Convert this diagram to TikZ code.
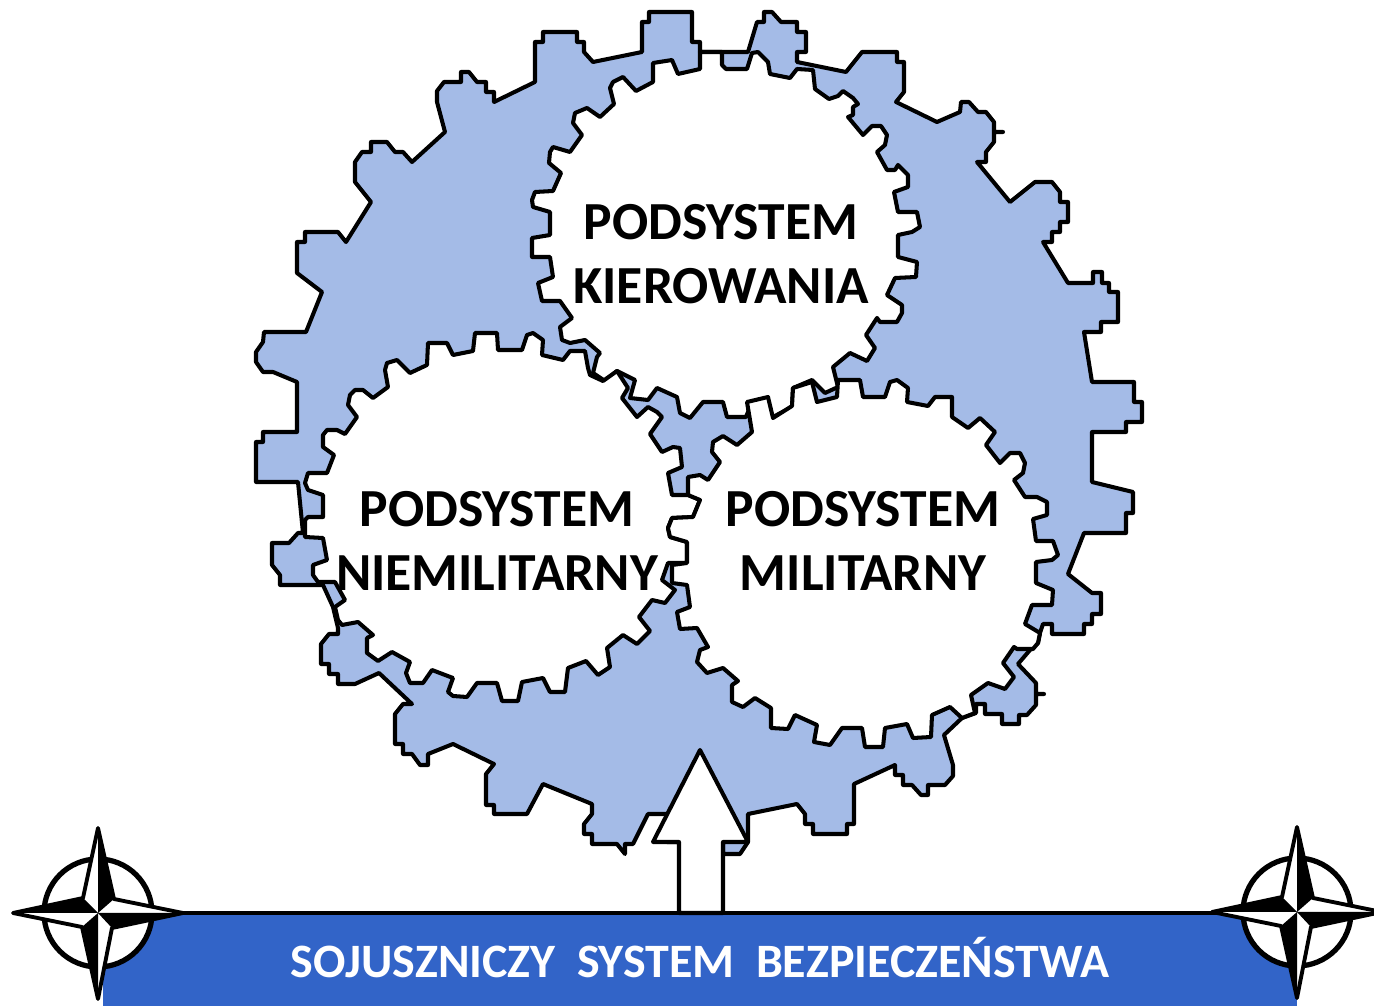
\documentclass[tikz,border=0pt]{standalone}
\usepackage{fontspec}
\setmainfont{Carlito}
\definecolor{gearblue}{HTML}{A4BBE7}
\definecolor{barblue}{HTML}{3264C8}
\def\starmark#1{
  \begin{scope}[shift={#1}]
    \draw[ringline] (0,0) circle (54);
    \draw[starline] (0,-85) -- (16,-14) -- (85,0) -- (14,15) -- (0,86) -- (-16,14) -- (-85,0) -- (-15,-15) -- cycle;
    \fill[black] (0,-85) -- (16,-14) -- (0,0) -- cycle;
    \fill[black] (85,0) -- (14,15) -- (0,0) -- cycle;
    \fill[black] (0,86) -- (-16,14) -- (0,0) -- cycle;
    \fill[black] (-85,0) -- (-15,-15) -- (0,0) -- cycle;
  \end{scope}
}
\tikzset{
  gearbody/.style={fill=gearblue,draw=black,line width=2.3pt,line join=round},
  gearhole/.style={fill=white,draw=black,line width=2.3pt,line join=round},
  gearlabel/.style={font=\fontsize{30.5}{36.4}\selectfont\bfseries,align=center,text=black},
  ringline/.style={fill=white,draw=black,line width=3pt},
  starline/.style={fill=white,draw=black,line width=2.2pt,line join=round},
}
\begin{document}
\begin{tikzpicture}[x=0.02cm,y=-0.02cm]
  \useasboundingbox (0,0) rectangle (1374,1006);
  % big gear
  \draw[gearbody] plot coordinates {
    (649,12) (692,12) (692,42) (700,42) (700,52) (748,52) (757,22) (764,22) (764,12) (772,12)
    (781,22) (797,22) (797,32) (806,32) (806,52) (797,52) (797,62) (846,72) (862,52) (897,52)
    (897,62) (904,62) (904,92) (896,102) (937,122) (960,112) (961,102) (969,102) (978,112) (986,112)
    (994,122) (994,132) (1003,132) (994,132) (994,142) (986,152) (986,162) (977,162) (1010,202) (1035,182)
    (1052,182) (1060,192) (1060,202) (1068,202) (1068,222) (1060,222) (1060,232) (1052,232) (1052,242) (1043,242)
    (1068,283) (1093,283) (1093,272) (1102,272) (1102,283) (1109,283) (1109,292) (1118,292) (1118,322) (1101,322)
    (1101,332) (1084,332) (1092,382) (1134,382) (1134,402) (1142,402) (1142,422) (1126,422) (1126,432) (1092,432)
    (1092,482) (1133,492) (1133,513) (1126,513) (1126,533) (1084,533) (1068,574) (1092,593) (1101,593) (1101,614)
    (1092,614) (1092,624) (1084,624) (1084,634) (1052,634) (1052,624) (1043,624) (1040,633) (1038,643) (1030,650)
    (1018,664) (1036,683) (1036,694) (1044,694) (1036,694) (1036,705) (1027,715) (1019,715) (1019,724) (1002,724)
    (1002,714) (985,714) (985,704) (976,704) (976,713) (962,718) (944,735) (953,765) (953,776) (945,785)
    (928,785) (928,795) (921,795) (912,785) (903,785) (903,775) (895,775) (895,765) (854,784) (854,824)
    (847,824) (847,834) (813,834) (813,824) (805,824) (805,814) (797,804) (748,814) (748,842) (740,854)
    (723,854) (723,842) (667,842) (667,814) (648,814) (633,844) (625,844) (625,854) (617,844) (592,844)
    (592,834) (584,834) (584,824) (592,814) (592,804) (543,784) (527,814) (494,814) (494,805) (486,805)
    (486,774) (494,764) (453,744) (428,754) (428,765) (420,765) (412,754) (403,754) (403,744) (395,744)
    (395,714) (403,704) (412,704) (379,673) (355,684) (338,684) (338,674) (329,674) (329,664) (321,664)
    (321,644) (329,634) (338,634) (338,628) (333,607) (323,585) (280,585) (280,575) (272,565) (272,543)
    (289,543) (298,533) (303,533) (298,482) (256,482) (256,442) (263,442) (263,432) (297,432) (297,382)
    (273,372) (263,372) (256,362) (256,352) (263,342) (264,332) (306,332) (322,292) (297,273) (297,242)
    (305,242) (305,232) (338,232) (346,242) (371,202) (355,182) (355,162) (362,152) (371,152) (371,142)
    (387,142) (395,152) (403,152) (412,162) (445,132) (437,102) (437,91) (444,82) (461,82) (461,72)
    (469,72) (477,82) (486,82) (486,92) (494,92) (494,102) (535,82) (535,42) (543,42) (543,32)
    (577,32) (577,42) (584,42) (584,52) (593,62) (642,52) (642,22) (649,22)
  } -- cycle;
  % inner gears
  \draw[gearhole] plot coordinates {
    (700,69) (700,52) (722,52) (722,65) (726,69) (747,69) (752,53) (758,52) (768,62) (770,74)
    (790,78) (797,69) (813,70) (815,89) (829,99) (838,96) (843,91) (853,98) (858,104) (853,107)
    (853,115) (848,117) (863,135) (872,126) (881,126) (887,135) (885,145) (877,152) (887,170) (895,170)
    (898,165) (908,175) (908,187) (894,192) (898,212) (917,212) (920,227) (912,232) (898,235) (898,257)
    (917,262) (916,277) (895,278) (887,295) (902,305) (902,313) (897,322) (880,322) (877,318) (866,335)
    (875,348) (867,361) (850,353) (833,367) (838,387) (825,393) (812,380) (793,388) (792,407) (773,417)
    (760,404) (750,407) (746,417) (727,417) (723,402) (703,402) (690,418) (680,413) (677,397) (657,388)
    (648,400) (630,398) (635,380) (617,371) (605,381) (593,373) (597,357) (600,353) (585,340) (570,343)
    (562,340) (560,327) (572,318) (560,301) (542,301) (538,283) (553,277) (550,257) (532,257) (532,238)
    (550,235) (550,212) (533,207) (532,200) (535,192) (553,191) (561,173) (549,163) (550,152) (553,147)
    (570,152) (582,135) (573,123) (575,113) (587,108) (600,117) (614,104) (610,88) (613,82) (623,77)
    (636,91) (653,82) (653,63) (672,60) (678,74)
  } -- cycle;
  \draw[gearhole] plot coordinates {
    (357,417) (345,434) (337,430) (327,430) (323,435) (323,447) (334,455) (327,473) (308,473) (305,483)
    (308,490) (323,495) (323,517) (308,517) (305,520) (305,537) (323,538) (327,560) (313,565) (313,575)
    (318,582) (335,582) (345,600) (335,607) (338,620) (342,625) (358,622) (373,635) (367,638) (367,653)
    (378,661) (392,652) (410,662) (406,673) (410,683) (423,683) (432,670) (453,678) (448,692) (453,696)
    (467,697) (477,683) (497,683) (502,701) (518,701) (522,682) (543,678) (550,692) (565,692) (568,668)
    (586,661) (598,675) (610,667) (607,648) (623,635) (637,644) (650,631) (639,617) (652,600) (665,603)
    (675,590) (662,580) (668,563) (687,563) (687,542) (670,537) (668,528) (672,518) (693,517) (700,500)
    (688,495) (672,495) (668,473) (682,467) (680,448) (673,447) (662,452) (650,434) (662,417) (657,412)
    (648,407) (637,417) (622,398) (628,388) (617,371) (603,381) (590,375) (588,368) (585,351) (570,351)
    (563,360) (542,355) (543,340) (533,333) (527,335) (522,350) (498,350) (497,333) (475,333) (473,351)
    (453,355) (447,343) (428,343) (427,365) (410,373) (397,360) (387,363) (385,370) (388,387) (373,398)
    (363,390) (355,390) (350,395) (348,405)
  } -- cycle;
  \draw[gearhole] plot coordinates {
    (838,380) (860,380) (863,397) (885,397) (890,382) (897,380) (908,388) (907,402) (928,406) (935,397)
    (952,397) (952,417) (968,428) (980,418) (995,432) (986,445) (1000,463) (1010,453) (1020,453) (1025,463)
    (1023,473) (1014,480) (1025,497) (1037,497) (1047,502) (1047,515) (1033,519) (1036,541) (1053,541) (1058,555)
    (1052,560) (1036,562) (1036,583) (1053,590) (1052,605) (1032,605) (1025,624) (1040,633) (1038,643) (1033,649)
    (1017,649) (1014,647) (1003,663) (1014,677) (1005,689) (988,683) (971,695) (975,713) (962,718) (950,707)
    (932,715) (931,737) (913,738) (907,724) (885,728) (883,747) (865,747) (862,728) (842,728) (830,745)
    (814,742) (817,725) (795,715) (788,729) (771,728) (771,708) (755,698) (743,707) (732,702) (732,685)
    (738,681) (723,668) (707,673) (697,662) (700,650) (708,647) (697,628) (680,629) (677,612) (690,607)
    (687,585) (672,583) (672,565) (687,563) (687,542) (670,537) (668,528) (672,518) (693,517) (700,500)
    (688,495) (688,477) (700,475) (708,480) (720,462) (712,452) (713,442) (723,436) (737,445) (752,432)
    (747,402) (768,397) (773,418) (792,406) (793,388) (812,382) (817,402) (837,397)
  } -- cycle;
  % labels
  \node[gearlabel] (kierowanie) at (721,254) {PODSYSTEM\\KIEROWANIA};
  \node[gearlabel] (niemilitarny) at (497,541) {PODSYSTEM\\NIEMILITARNY};
  \node[gearlabel] (militarny) at (863,541) {PODSYSTEM\\MILITARNY};
  % bar and arrow
  \fill[barblue] (103,913) rectangle (1297,1006);
  \draw[black,line width=2.3pt] (103,913) -- (1297,913);
  \draw[gearhole] (700,750) -- (748,842) -- (723,842) -- (723,913) -- (679,913) -- (679,842) -- (653,842) -- cycle;
  \node[font=\fontsize{27.3}{33}\selectfont\bfseries,text=white] (bar) at (700,958) {SOJUSZNICZY\ \ SYSTEM\ \ BEZPIECZEŃSTWA};
  \starmark{(98,913)}
  \starmark{(1297,912)}
\end{tikzpicture}
\end{document}
